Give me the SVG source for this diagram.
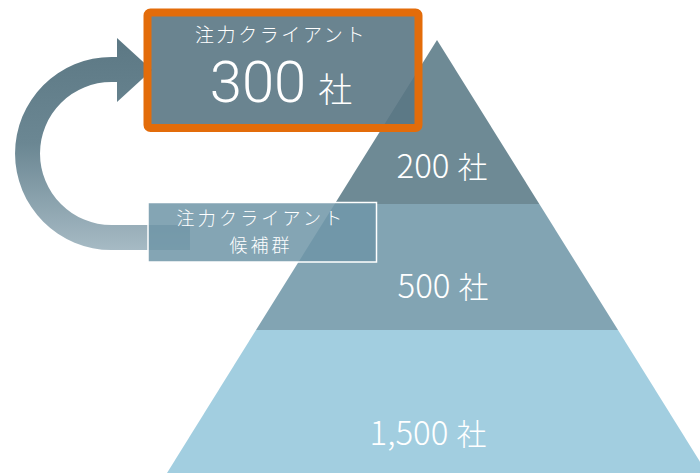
<svg xmlns="http://www.w3.org/2000/svg" width="700" height="473" viewBox="0 0 700 473">
<defs>
<linearGradient id="arrowGrad" x1="0" y1="0" x2="0" y2="1">
<stop offset="0" stop-color="#5c7884"/>
<stop offset="0.5" stop-color="#6b8793"/>
<stop offset="1" stop-color="#a6bac4"/>
</linearGradient>
<style>
text{font-family:"Noto Sans CJK JP","Noto Sans",sans-serif;font-weight:300;fill:#ffffff;text-anchor:middle}
.big{font-family:Roboto,"Noto Sans CJK JP",sans-serif;font-weight:300}
.cjk{font-family:"Noto Sans CJK JP",sans-serif}
</style>
</defs>
<rect width="700" height="473" fill="#ffffff"/>
<g id="pyramid">
<polygon id="tier1" points="437,40 539.3,204 334.7,204" fill="#6e8a95"/>
<polygon id="tier2" points="334.7,204 539.3,204 618,330 256,330" fill="#82a4b3"/>
<polygon id="tier3" points="256,330 618,330 707,473 167,473" fill="#a2cee0"/>
<text x="442" y="178" font-size="33">200<tspan font-size="30" dx="8">社</tspan></text>
<text x="443" y="298" font-size="33">500<tspan font-size="30" dx="8">社</tspan></text>
<text x="428" y="445" font-size="33">1,500<tspan font-size="30" dx="8">社</tspan></text>
</g>
<g id="connectors">
<path id="loopArrow" d="M190,225 L111.5,225 A71.5,71.5 0 0 1 111.5,82 L117,82 L117,102 L152,70 L117,38 L117,57 L111.5,57 A96.5,96.5 0 0 0 111.5,250 L190,250 Z" fill="url(#arrowGrad)"/>
</g>
<g id="candidates">
<rect x="148" y="202.5" width="228.5" height="59.5" fill="#6e95a7" fill-opacity="0.85" stroke="#ffffff" stroke-width="1.5"/>
<text x="261" y="225" font-size="18" letter-spacing="3.2">注力クライアント</text>
<text x="261" y="252" font-size="18" letter-spacing="3">候補群</text>
</g>
<g id="focus">
<rect x="147.5" y="12.5" width="271" height="115.5" rx="3" fill="#5a7784" fill-opacity="0.9" stroke="#e36c0a" stroke-width="8"/>
<text x="281" y="42" font-size="19" letter-spacing="2.6">注力クライアント</text>
<text class="big" x="281" y="101.5" font-size="58">300<tspan class="cjk" font-size="34" dx="12">社</tspan></text>
</g>
</svg>
